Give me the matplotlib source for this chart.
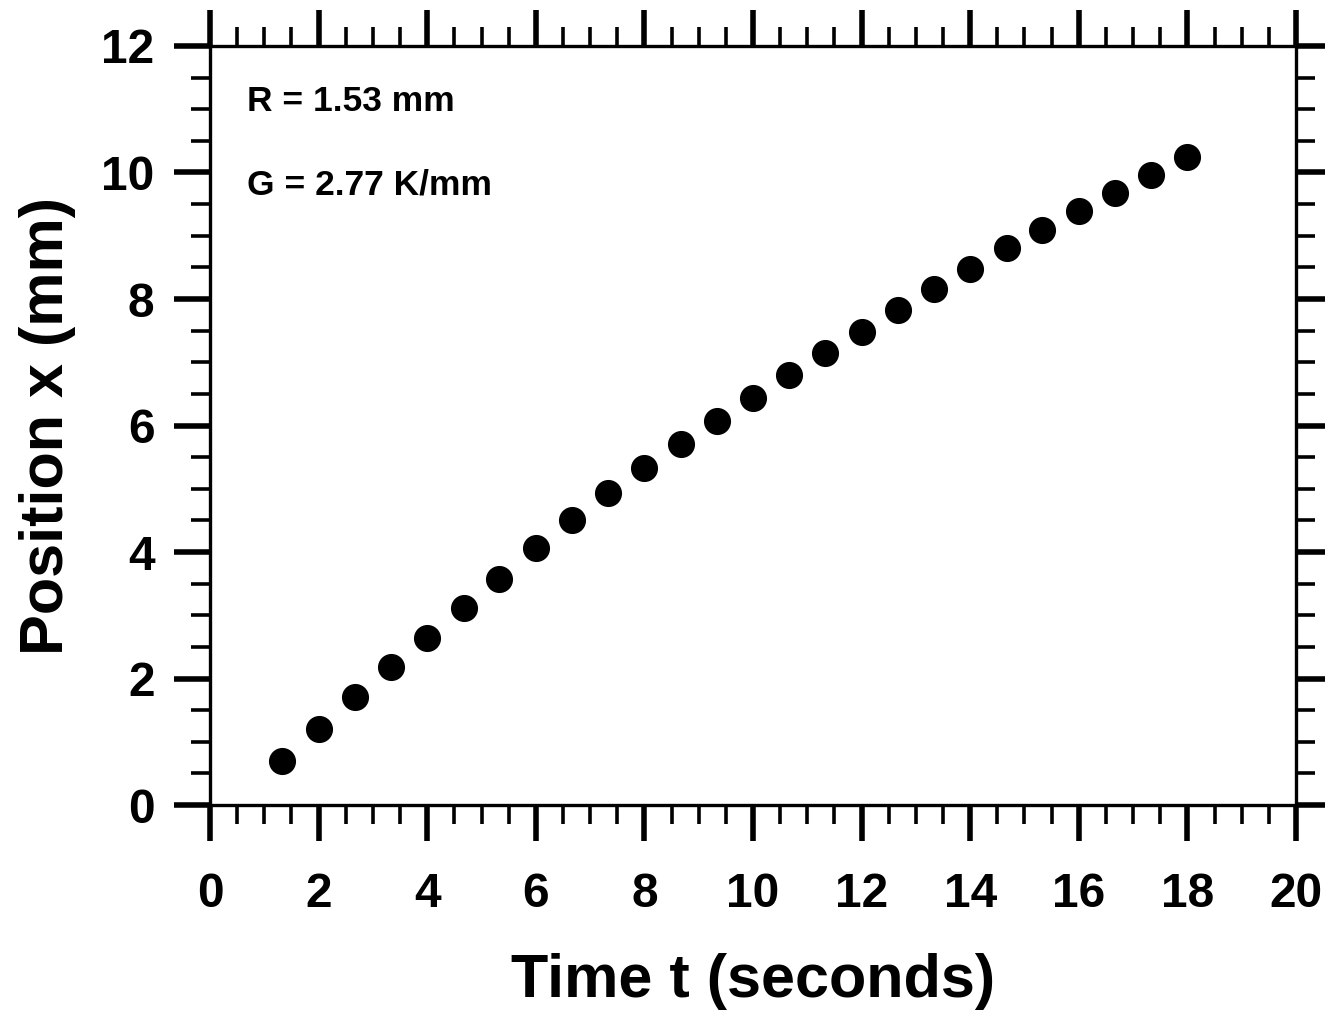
import matplotlib
matplotlib.use("Agg")
import matplotlib.pyplot as plt
from matplotlib.ticker import MultipleLocator

plt.rcParams['font.family'] = ['Liberation Sans', 'DejaVu Sans']
plt.rcParams['font.weight'] = 'bold'

# data
time_s = [1.33, 2.0, 2.67, 3.33, 4.0, 4.67, 5.33, 6.0, 6.67, 7.33, 8.0, 8.67, 9.33,
          10.0, 10.67, 11.33, 12.0, 12.67, 13.33, 14.0, 14.67, 15.33, 16.0, 16.67,
          17.33, 18.0]
position_mm = [0.70, 1.20, 1.71, 2.18, 2.64, 3.11, 3.57, 4.06, 4.51, 4.93, 5.33, 5.71,
               6.07, 6.43, 6.80, 7.15, 7.48, 7.83, 8.16, 8.47, 8.81, 9.09, 9.39, 9.68,
               9.96, 10.25]
notes = ["R = 1.53 mm", "G = 2.77 K/mm"]

fig = plt.figure(figsize=(13.25, 10.13), dpi=100)
ax = fig.add_axes([0.1585, 0.2053, 0.8196, 0.7493])

ax.plot(time_s, position_mm, 'o', color='black', markersize=18.5, clip_on=False)

ax.set_xlim(0, 20)
ax.set_ylim(0, 12)
ax.xaxis.set_major_locator(MultipleLocator(2))
ax.xaxis.set_minor_locator(MultipleLocator(0.5))
ax.yaxis.set_major_locator(MultipleLocator(2))
ax.yaxis.set_minor_locator(MultipleLocator(0.5))

for s in ax.spines.values():
    s.set_linewidth(2.4)

ax.tick_params(which='both', direction='out', top=True, right=True,
               labeltop=False, labelright=False)
ax.tick_params(which='major', length=26, width=4.0, labelsize=34.5)
ax.tick_params(which='minor', length=14, width=2.6)
ax.tick_params(axis='x', which='major', pad=22)
ax.tick_params(axis='y', which='major', pad=14)

ax.set_xlabel("Time t (seconds)", fontsize=44, fontweight='bold', labelpad=26)
ax.set_ylabel("Position x (mm)", fontsize=44, fontweight='bold', labelpad=18)

ax.text(0.68, 11.13, notes[0], fontsize=25.5, fontweight='bold', va='center')
ax.text(0.68, 9.80, notes[1], fontsize=25.5, fontweight='bold', va='center')

fig.savefig("out.png", dpi=100)
